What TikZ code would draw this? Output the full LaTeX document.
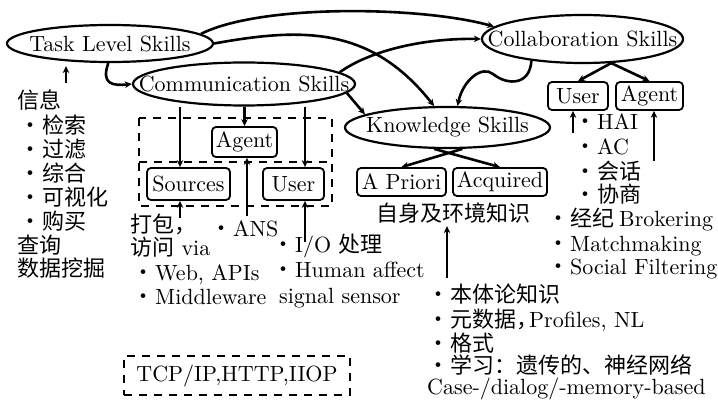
\documentclass[tikz,border=0pt]{standalone}
\usepackage{fontspec}
\setmainfont{lmroman10-regular.otf}
\newfontfamily\cjk{Noto Sans CJK SC}
\usetikzlibrary{shapes.geometric,arrows.meta,calc}
\newcommand\zh[1]{{\cjk\fontsize{22}{24}\selectfont #1}}
\newcommand\bul{\makebox[15pt][l]{\hspace*{-8pt}\zh{·}}}
\tikzset{
  ell/.style={ellipse, draw, line width=2.2pt, inner sep=0pt},
  box/.style={draw, rounded corners=4pt, line width=1.8pt, inner sep=0pt},
  conn/.style={line width=2.6pt, -{Stealth[length=7pt,width=6.5pt]}},
  dframe/.style={draw, dash pattern=on 8pt off 7pt, line width=2.6pt},
  txt/.style={anchor=base west, inner sep=0pt},
}
\begin{document}
\begin{tikzpicture}[x=1pt,y=-1pt,
  every node/.style={font=\fontsize{22}{24}\selectfont}]
\useasboundingbox (0,0) rectangle (718,406);

% skill ellipses
\node[ell, minimum width=206pt, minimum height=37pt, label=center:Task Level Skills] (task) at (110,43.5) {};
\node[ell, minimum width=222pt, minimum height=43pt, label=center:Communication Skills] (comm) at (244,84) {};
\node[ell, minimum width=201pt, minimum height=48pt, label=center:Collaboration Skills] (coll) at (582.5,39) {};
\node[ell, minimum width=205pt, minimum height=41pt, label=center:Knowledge Skills] (know) at (447.5,127.5) {};

% boxes
\node[box, minimum width=65pt, minimum height=30pt] (cagent) at (244.5,142) {Agent};
\node[box, minimum width=83pt, minimum height=32pt] (src) at (188.5,184) {Sources};
\node[box, minimum width=61pt, minimum height=32pt] (cuser) at (293.5,184) {User};
\node[box, minimum width=89pt, minimum height=28pt] (apri) at (401.5,182) {A Priori};
\node[box, minimum width=94pt, minimum height=28pt] (acq) at (500,182) {Acquired};
\node[box, minimum width=60pt, minimum height=28pt] (kuser) at (578,96) {User};
\node[box, minimum width=67pt, minimum height=28pt] (kagent) at (649.5,96) {Agent};

% dashed frames
\draw[dframe] (139,118) rectangle (332,206);
\draw[dframe] (139,162) -- (332,162);
\node[dframe, minimum width=226pt, minimum height=39pt, inner sep=0pt] (tcp) at (237,375.5) {TCP/IP,HTTP,IIOP};

% left column
\node[txt] (l1) at (17,109) {\zh{信息}};
\node[txt] (l2) at (27,134) {\bul\zh{检索}};
\node[txt] (l3) at (27,158) {\bul\zh{过滤}};
\node[txt] (l4) at (27,182) {\bul\zh{综合}};
\node[txt] (l5) at (27,206) {\bul\zh{可视化}};
\node[txt] (l6) at (27,230) {\bul\zh{购买}};
\node[txt] (l7) at (17,254) {\zh{查询}};
\node[txt] (l8) at (17,277) {\zh{数据挖掘}};

% communication notes
\node[txt] (m1) at (130,233) {\zh{打包，}};
\node[txt] (m2) at (130,256) {\zh{访问} via};
\node[txt] (m3) at (218,237) {\bul ANS};
\node[txt] (m4) at (140,281) {\bul Web, APIs};
\node[txt] (m5) at (140,305) {\bul Middleware};
\node[txt] (m6) at (280,253) {\bul I/O \zh{处理}};
\node[txt] (m7) at (280,278) {\bul Human affect};
\node[txt] (m8) at (279,304) {signal sensor};

% knowledge notes
\node[anchor=base, inner sep=0pt] (envk) at (453,222) {\zh{自身及环境知识}};
\node[txt] (k1) at (435,303) {\bul\zh{本体论知识}};
\node[txt] (k2) at (435,327) {\bul\zh{元数据，}\kern-9pt Profiles, NL};
\node[txt] (k3) at (435,351) {\bul\zh{格式}};
\node[txt] (k4) at (435,373) {\bul\zh{学习：遗传的、神经网络}};
\node[txt] (k5) at (427,394) {Case-/dialog/-memory-based};

% collaboration notes
\node[txt] (c1) at (582,130) {\bul HAI};
\node[txt] (c2) at (582,155) {\bul AC};
\node[txt] (c3) at (582,180) {\bul\zh{会话}};
\node[txt] (c4) at (582,203) {\bul\zh{协商}};
\node[txt] (c5) at (555,227) {\bul\zh{经纪}\kern5pt Brokering};
\node[txt] (c6) at (555,252) {\bul Matchmaking};
\node[txt] (c7) at (555,275) {\bul Social Filtering};

% connectors between skills
\draw[conn] (task.6) .. controls (260,4) and (420,6) .. (coll.172);
\draw[conn] (task.0) .. controls (300,28) and (370,25) .. (know.122);
\draw[conn] (comm.7) .. controls (368,52) and (420,38) .. (coll.180);
\draw[conn] (comm.-5) -- (know.171);
\draw[conn] (coll.-157) .. controls (530,85) and (508,86) .. (493,74)
                        .. controls (482,65) and (463,80) .. (know.65);
\draw[conn] (task.-95) .. controls (101,84) and (112,86) .. (comm.180);

\coordinate (infotop) at (66,83);
\draw[conn, shorten >=3pt] (infotop) -- (infotop |- task.south);

% communication branches
\coordinate (s1) at ($(src.north)+(-8.5,0)$);
\coordinate (u1) at ($(cuser.north)+(11.5,0)$);
\draw[conn] (comm.south -| s1) -- (s1);
\draw[conn] (comm.south -| cagent.north) -- (cagent.north);
\draw[conn] (comm.south -| u1) -- (u1);

\coordinate (ansp) at (247,216);
\draw[conn] (ansp) -- (ansp |- cagent.south);
\coordinate (srcp) at (180,218);
\draw[conn] (srcp) -- (srcp |- src.south);
\coordinate (usrp) at (305,242);
\draw[conn] (usrp) -- (usrp |- cuser.south);

% knowledge branches
\draw[conn] (know.-55) -- (apri.north);
\draw[conn] (know.-122) -- (acq.north);
\coordinate (ontp) at (447,278);
\draw[conn, shorten >=2pt] (ontp) -- (ontp |- envk.south);

% collaboration branches
\draw[conn] (coll.-40) -- (kuser.north);
\draw[conn] (coll.-40) -- (kagent.north);
\coordinate (kup) at (573,133);
\draw[conn] (kup) -- (kup |- kuser.south);
\coordinate (kap) at (654,161);
\draw[conn] (kap) -- (kap |- kagent.south);
\end{tikzpicture}
\end{document}
